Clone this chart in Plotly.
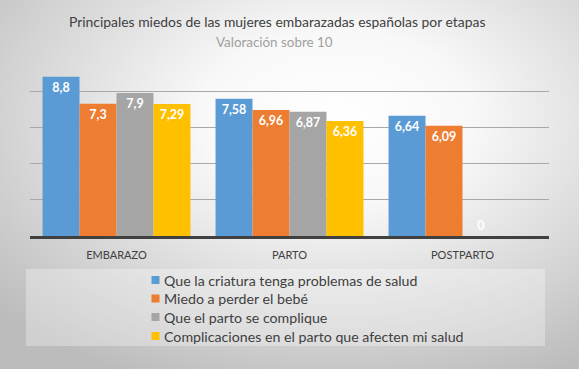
import base64
import plotly.graph_objects as go

# ---- data ----
categories = ["EMBARAZO", "PARTO", "POSTPARTO"]
series_names = [
    "Que la criatura tenga problemas de salud",
    "Miedo a perder el bebé",
    "Que el parto se complique",
    "Complicaciones en el parto que afecten mi salud",
]
serie_criatura = [8.8, 7.58, 6.64]
serie_perder = [7.3, 6.96, 6.09]
serie_complique = [7.9, 6.87, 0]
serie_salud = [7.29, 6.36, None]
series_values = [serie_criatura, serie_perder, serie_complique, serie_salud]
colors = ["#5b9bd5", "#ed7d31", "#a5a5a5", "#ffc000"]

title_text = "Principales miedos de las mujeres embarazadas españolas por etapas"
subtitle_text = "Valoración sobre 10"

# ---- geometry (pixels) ----
W, H = 579, 369
L, R, T, B = 30, 30, 55, 133
PW = W - L - R
PH = H - T - B


def px2x(px):
    return (px - L) / PW


def py2y(py):
    return (H - B - py) / PH


FONT = "Lato, 'Noto Sans', sans-serif"

fig = go.Figure()


def fmt(v):
    if v is None:
        return ""
    return f"{v:g}".replace(".", ",")


for name, vals, col in zip(series_names, series_values, colors):
    fig.add_trace(go.Bar(
        x=categories, y=vals, name=name,
        marker=dict(color=col, line=dict(width=0)),
        text=[fmt(v) for v in vals],
        textposition=["outside" if (v == 0) else "inside" for v in vals],
        insidetextanchor="end",
        textfont=dict(color="white", size=12.5, family=FONT, weight="bold"),
        outsidetextfont=dict(color="white", size=12.5, family=FONT, weight="bold"),
        cliponaxis=False,
        showlegend=False,
    ))

# background gradient
svg = (
    "<svg xmlns='http://www.w3.org/2000/svg' width='579' height='369'>"
    "<defs><radialGradient id='g' cx='0.58' cy='0.32' r='0.78'>"
    "<stop offset='0' stop-color='#ffffff'/>"
    "<stop offset='0.3' stop-color='#f8f8f8'/>"
    "<stop offset='1' stop-color='#bcbcbc'/>"
    "</radialGradient></defs>"
    "<rect width='579' height='369' fill='url(#g)'/></svg>"
)
src = "data:image/svg+xml;base64," + base64.b64encode(svg.encode()).decode()

images = [dict(source=src, xref="paper", yref="paper",
               x=px2x(0), y=py2y(0), sizex=W / PW, sizey=H / PH,
               xanchor="left", yanchor="top", sizing="stretch", layer="below")]

shapes = [dict(type="rect", xref="paper", yref="paper",
               x0=px2x(26), x1=px2x(545), y0=py2y(269), y1=py2y(346),
               fillcolor="rgba(255,255,255,0.3)", line=dict(width=0), layer="below")]

annotations = [
    dict(text=title_text, xref="paper", yref="paper", x=px2x(277), y=py2y(22),
         xanchor="center", yanchor="middle", showarrow=False,
         font=dict(family=FONT, size=13.9, color="#404040")),
    dict(text=subtitle_text, xref="paper", yref="paper", x=px2x(274), y=py2y(42),
         xanchor="center", yanchor="middle", showarrow=False,
         font=dict(family=FONT, size=13.4, color="#a0a0a0")),
]

legend_rows = [280, 298.5, 317, 336]
for name, col, ry in zip(series_names, colors, legend_rows):
    shapes.append(dict(type="rect", xref="paper", yref="paper",
                       x0=px2x(151.5), x1=px2x(159.5), y0=py2y(ry - 4), y1=py2y(ry + 4),
                       fillcolor=col, line=dict(width=0)))
    annotations.append(dict(text=name, xref="paper", yref="paper",
                            x=px2x(162), y=py2y(ry), xanchor="left", yanchor="middle",
                            showarrow=False,
                            font=dict(family=FONT, size=14.2, color="#404040")))

fig.update_layout(
    width=W, height=H,
    margin=dict(l=L, r=R, t=T, b=B, pad=0),
    paper_bgcolor="#d8d8d8",
    plot_bgcolor="rgba(0,0,0,0)",
    barmode="group", bargap=0.145, bargroupgap=0,
    images=images, shapes=shapes, annotations=annotations,
    xaxis=dict(showline=True, linecolor="#404040", linewidth=3,
               ticks="", ticklabelstandoff=7,
               tickfont=dict(family=FONT, size=11, color="#404040"),
               showgrid=False, fixedrange=True),
    yaxis=dict(range=[0, 10], dtick=2, showticklabels=False,
               showgrid=True, gridcolor="#a8a8a8", gridwidth=1.2,
               zeroline=False, showline=False, fixedrange=True),
    showlegend=False,
)

fig.write_html(
    "out.html",
    config={"displayModeBar": False},
    post_script="document.body.style.margin='0';document.body.style.overflow='hidden';",
)
